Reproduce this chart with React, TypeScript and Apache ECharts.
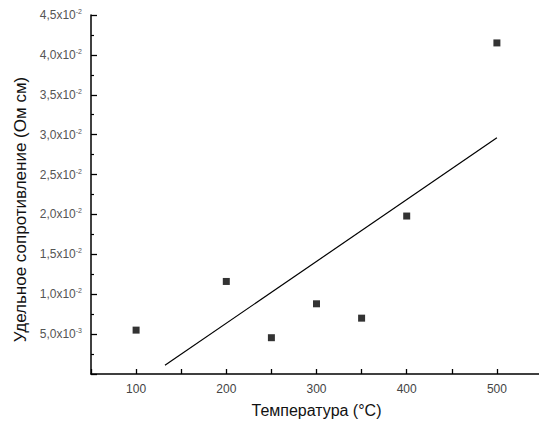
import React, { useEffect, useRef } from "react";
import * as echarts from "echarts";

const temperatures = [100, 200, 250, 300, 350, 400, 500];
const resistivity = [0.0055, 0.0116, 0.00455, 0.0088, 0.0070, 0.0198, 0.0415];
const fitX = [132, 500];
const fitY = [0.0011, 0.0296];
const xTickLabels = ["100", "200", "300", "400", "500"];

function yLabel(v: number): string {
  if (v <= 0) return "";
  const exp = Math.floor(Math.log10(v) + 1e-9);
  const mant = v / Math.pow(10, exp);
  const m = mant.toFixed(1).replace(".", ",");
  return "{m|" + m + "x10}{e|" + exp + "}";
}

export default function App() {
  const ref = useRef<HTMLDivElement>(null);
  useEffect(() => {
    if (!ref.current) return;
    const chart = echarts.init(ref.current, null, { renderer: "svg" });
    chart.setOption({
      animation: false,
      backgroundColor: "#fff",
      grid: { left: 91, top: 15, right: 0, bottom: 53 },
      xAxis: {
        type: "value",
        min: 50,
        max: 550,
        interval: 50,
        name: "Температура (°C)",
        nameLocation: "middle",
        nameGap: 28,
        nameTextStyle: { fontFamily: "Liberation Sans", fontSize: 16, color: "#111" },
        axisLine: { lineStyle: { color: "#000", width: 1.5 } },
        axisTick: { inside: true, length: 5, lineStyle: { color: "#000", width: 1.3 } },
        axisLabel: {
          fontFamily: "Liberation Sans",
          fontSize: 12,
          color: "#444",
          margin: 9,
          formatter: (v: number) => (xTickLabels.includes(String(v)) ? String(v) : ""),
        },
        splitLine: { show: false },
      },
      yAxis: {
        type: "value",
        min: 0,
        max: 0.045,
        interval: 0.005,
        name: "Удельное сопротивление (Ом см)",
        nameLocation: "middle",
        nameGap: 60,
        nameTextStyle: { fontFamily: "Liberation Sans", fontSize: 17, color: "#111", padding: [0, 30, 0, 0] },
        axisLine: { lineStyle: { color: "#000", width: 1.5 } },
        axisTick: { inside: true, length: 6, lineStyle: { color: "#000", width: 1.3 } },
        minorTick: { show: true, splitNumber: 2, length: 3, lineStyle: { color: "#000", width: 1.2 } },
        axisLabel: {
          showMinLabel: false,
          margin: 9,
          formatter: yLabel,
          rich: {
            m: { fontFamily: "Liberation Sans", fontSize: 12, color: "#555", lineHeight: 14 },
            e: { fontFamily: "Liberation Sans", fontSize: 7, color: "#555", verticalAlign: "top", lineHeight: 8 },
          },
        },
        splitLine: { show: false },
      },
      series: [
        {
          type: "scatter",
          data: temperatures.map((t, i) => [t, resistivity[i]]),
          symbol: "rect",
          symbolSize: 7,
          itemStyle: { color: "#000" },
        },
        {
          type: "line",
          data: fitX.map((t, i) => [t, fitY[i]]),
          showSymbol: false,
          lineStyle: { color: "#000", width: 1.2 },
        },
      ],
    });
    return () => chart.dispose();
  }, []);
  return <div ref={ref} style={{ position: "fixed", left: 0, top: 0, width: 545, height: 427 }} />;
}
